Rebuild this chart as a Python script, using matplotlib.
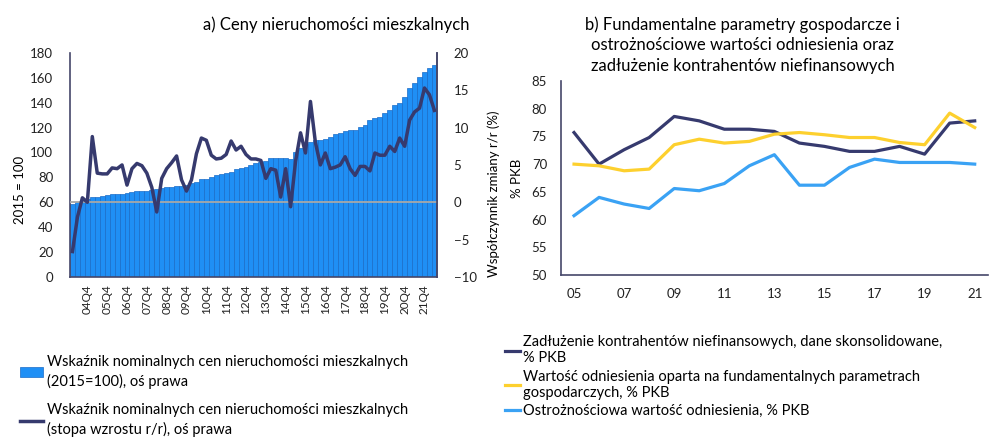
import numpy as np
import matplotlib.pyplot as plt

plt.rcParams['font.family'] = ['Lato', 'DejaVu Sans']

# Left panel: house price index, quarterly 2004Q1 - 2022Q2
quarters = [f"{y % 100:02d}Q{q}" for y in range(2004, 2023) for q in range(1, 5)][:74]
price_index = [
    58.7, 60.0, 61.9, 63.0, 64.0, 64.6, 65.0, 65.7, 66.5, 66.7,
    67.0, 67.3, 68.6, 69.4, 69.4, 69.4, 70.0, 70.5, 71.3, 72.0,
    72.6, 73.4, 73.0, 74.0, 75.2, 76.6, 78.5, 79.0, 80.0, 82.0,
    82.8, 83.3, 84.6, 86.5, 87.3, 88.7, 90.0, 91.5, 92.0, 93.5,
    95.4, 95.9, 95.9, 95.9, 95.0, 100.0, 104.0, 107.0, 108.8, 110.0,
    110.0, 110.7, 112.8, 115.0, 116.0, 117.6, 118.0, 118.0, 120.4, 122.2,
    126.0, 127.5, 128.8, 131.6, 134.2, 138.3, 140.0, 144.4, 151.7, 155.8,
    160.5, 165.0, 168.0, 170.0,
]
price_growth = [
    -6.6, -2.0, 0.6, 0.0, 8.8, 3.9, 3.8, 3.8, 4.6, 4.5,
    5.0, 2.3, 4.5, 5.2, 4.9, 3.9, 2.0, -1.3, 3.2, 4.5,
    5.3, 6.2, 3.0, 1.5, 3.0, 6.5, 8.6, 8.3, 6.3, 5.8,
    5.9, 6.4, 8.2, 7.0, 7.5, 6.4, 5.8, 5.8, 5.6, 3.2,
    4.5, 4.3, 0.7, 4.5, -0.6, 5.5, 9.3, 6.6, 13.5, 8.0,
    5.0, 6.6, 4.5, 4.7, 5.0, 6.1, 4.5, 3.6, 4.8, 4.8,
    4.2, 6.6, 6.3, 6.3, 7.5, 6.8, 8.6, 7.5, 11.0, 12.1,
    12.6, 15.3, 14.4, 12.3,
]

# Right panel: annual benchmarks, % of GDP
years = list(range(2005, 2022))
debt = [75.7, 70.0, 72.6, 74.8, 78.6, 77.8, 76.3, 76.3, 75.9, 73.8,
        73.2, 72.3, 72.3, 73.2, 71.8, 77.4, 77.8]
fundamental = [70.0, 69.7, 68.8, 69.1, 73.5, 74.5, 73.8, 74.1, 75.4, 75.7,
               75.3, 74.8, 74.8, 73.9, 73.5, 79.2, 76.6]
prudential = [60.7, 64.0, 62.8, 62.0, 65.6, 65.2, 66.5, 69.7, 71.7, 66.2,
              66.2, 69.4, 70.9, 70.3, 70.3, 70.3, 70.0]
year_ticks = [2005, 2007, 2009, 2011, 2013, 2015, 2017, 2019, 2021]

navy = '#363a6e'
blue_bar = '#1f8ff5'
yellow = '#fdd02e'
light_blue = '#3aa2f4'
spine_col = '#45476a'

fig = plt.figure(figsize=(9.97, 4.41), dpi=100)

# ---- panel a)
ax = fig.add_axes([0.0702, 0.372, 0.368, 0.508])
x = np.arange(len(quarters))
bars = ax.bar(x, price_index, width=1.0, color=blue_bar, edgecolor='#1a6cc8',
              linewidth=0.5, label='Wskaźnik nominalnych cen nieruchomości mieszkalnych\n(2015=100), oś prawa')
ax.set_xlim(-0.5, len(quarters) - 0.5)
ax.set_ylim(0, 180)
ax.set_yticks(range(0, 181, 20))
ax.set_xticks(x[3::4])
ax.set_xticklabels(quarters[3::4], rotation=90, fontsize=8.5)
ax.tick_params(axis='both', length=0, colors='#222222')
ax.tick_params(axis='y', pad=12, labelsize=9.5)
ax.tick_params(axis='x', pad=5)
ax.set_ylabel('2015 = 100', fontsize=9.5)
ax.yaxis.set_label_coords(-0.12, 0.39)
ax.spines['top'].set_visible(False)
for s in ['left', 'bottom', 'right']:
    ax.spines[s].set_color(spine_col)
    ax.spines[s].set_linewidth(1.2)

ax2 = ax.twinx()
ax2.set_ylim(-10, 20)
ax2.set_yticks(range(-10, 21, 5))
ax2.axhline(0, color='#a8a8a8', linewidth=1.3)
growth_line, = ax2.plot(x, price_growth, color=navy, linewidth=2.5,
                        label='Wskaźnik nominalnych cen nieruchomości mieszkalnych\n(stopa wzrostu r/r), oś prawa')
ax2.tick_params(axis='y', length=0, pad=12, labelsize=9.5, colors='#222222')
ax2.set_ylabel('Współczynnik zmiany r/r (%)', fontsize=9.5)
ax2.yaxis.set_label_coords(1.139, 0.37)
for s in ['top', 'left', 'bottom']:
    ax2.spines[s].set_visible(False)
ax2.spines['right'].set_color(spine_col)
ax2.spines['right'].set_linewidth(1.2)

fig.text(0.337, 0.945, 'a) Ceny nieruchomości mieszkalnych', ha='center', va='center', fontsize=12)

leg_a = fig.legend(handles=[bars, growth_line], loc='upper left', bbox_to_anchor=(0.02, 0.196),
                   frameon=False, fontsize=10.5, handlelength=1.6, handletextpad=0.25,
                   labelspacing=0.95, borderaxespad=0, borderpad=0)
for t in leg_a.get_texts():
    t.set_linespacing(1.45)

# ---- panel b)
bx = fig.add_axes([0.5627, 0.3764, 0.428, 0.44])
l1, = bx.plot(years, debt, color=navy, linewidth=2.3,
              label='Zadłużenie kontrahentów niefinansowych, dane skonsolidowane,\n% PKB')
l2, = bx.plot(years, fundamental, color=yellow, linewidth=2.3,
              label='Wartość odniesienia oparta na fundamentalnych parametrach\ngospodarczych, % PKB')
l3, = bx.plot(years, prudential, color=light_blue, linewidth=2.3,
              label='Ostrożnościowa wartość odniesienia, % PKB')
bx.set_xlim(2004.48, 2021.52)
bx.set_ylim(50, 85)
bx.set_yticks(range(50, 86, 5))
bx.set_xticks(year_ticks)
bx.set_xticklabels([f"{y % 100:02d}" for y in year_ticks])
bx.tick_params(axis='both', length=0, labelsize=9.5, colors='#222222')
bx.tick_params(axis='y', pad=10)
bx.tick_params(axis='x', pad=9)
bx.set_ylabel('% PKB', fontsize=9.5, labelpad=6)
for s in ['top', 'right']:
    bx.spines[s].set_visible(False)
for s in ['left', 'bottom']:
    bx.spines[s].set_color(spine_col)
    bx.spines[s].set_linewidth(1.2)

fig.text(0.745, 0.898,
         'b) Fundamentalne parametry gospodarcze i\nostrożnościowe wartości odniesienia oraz\nzadłużenie kontrahentów niefinansowych',
         ha='center', va='center', fontsize=12, linespacing=1.35)

leg_b = fig.legend(handles=[l1, l2, l3], loc='upper left', bbox_to_anchor=(0.507, 0.24),
                   frameon=False, fontsize=10.5, handlelength=1.0, handletextpad=0.2,
                   labelspacing=0.3, borderaxespad=0, borderpad=0)
for t in leg_b.get_texts():
    t.set_linespacing(1.2)

fig.savefig('out.png', dpi=100)
